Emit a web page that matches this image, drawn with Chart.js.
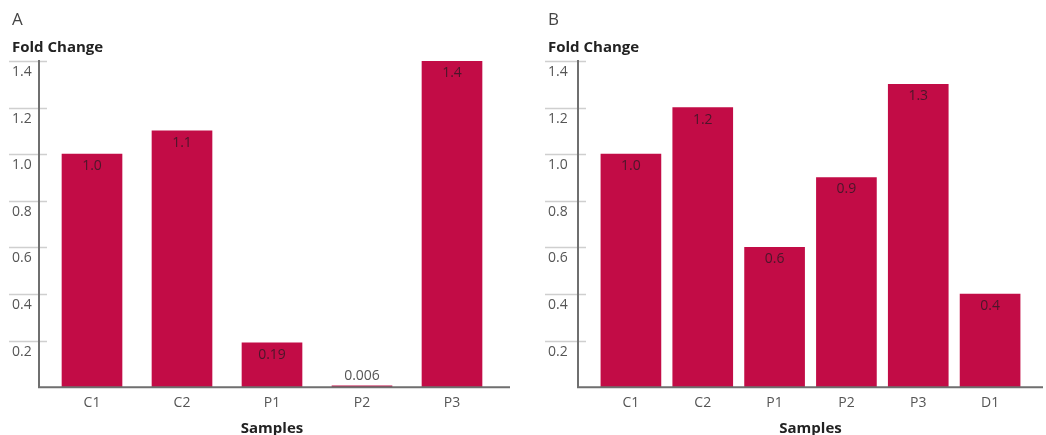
<!DOCTYPE html>
<html>
<head>
<meta charset="utf-8">
<script src="https://cdn.jsdelivr.net/npm/chart.js@4.4.1/dist/chart.umd.min.js"></script>
<style>
    html, body { margin: 0; padding: 0; background: #fff; }
    #wrap { position: relative; width: 1046px; height: 435px; }
    .panel { position: absolute; top: 0; width: 523px; height: 435px; }
    #panelA { left: 0; }
    #panelB { left: 523px; }
</style>
</head>
<body>
<div id="wrap">
    <div class="panel" id="panelA"><canvas id="chartA"></canvas></div>
    <div class="panel" id="panelB"><canvas id="chartB"></canvas></div>
</div>
<script>
// Panel A
const categoriesA = ['C1', 'C2', 'P1', 'P2', 'P3'];
const foldChangeA = [1.0, 1.1, 0.19, 0.006, 1.4];
const valueLabelsA = ['1.0', '1.1', '0.19', '0.006', '1.4'];

// Panel B
const categoriesB = ['C1', 'C2', 'P1', 'P2', 'P3', 'D1'];
const foldChangeB = [1.0, 1.2, 0.6, 0.9, 1.3, 0.4];
const valueLabelsB = ['1.0', '1.2', '0.6', '0.9', '1.3', '0.4'];

const yMax = 1.4;
const yStep = 0.2;

const FONT = "'Open Sans', 'Noto Sans', sans-serif";
const BAR_COLOR = '#c20c46';

// axis lines + short tick marks, drawn by hand like the original figure
const panelAxes = {
    id: 'panelAxes',
    afterDatasetsDraw(chart, args, opts) {
        const { ctx, chartArea, scales } = chart;
        const y = scales.y;
        const axisX = chartArea.left - opts.axisGap;
        ctx.save();
        ctx.strokeStyle = '#cfcfcf';
        ctx.lineWidth = 1.5;
        y.ticks.forEach(t => {
            if (t.value === 0) return;
            const py = Math.round(y.getPixelForValue(t.value)) + 0.5;
            ctx.beginPath();
            ctx.moveTo(opts.tickFrom, py);
            ctx.lineTo(axisX + opts.tickOver, py);
            ctx.stroke();
        });
        ctx.strokeStyle = '#6f6f6f';
        ctx.lineWidth = 2;
        const top = y.getPixelForValue(yMax) - 1;
        const bottom = y.getPixelForValue(0);
        ctx.beginPath();
        ctx.moveTo(axisX, top);
        ctx.lineTo(axisX, bottom);
        ctx.lineTo(chartArea.right + opts.overhang, bottom);
        ctx.stroke();
        ctx.restore();
    }
};

const valueLabels = {
    id: 'valueLabels',
    afterDatasetsDraw(chart, args, opts) {
        const { ctx } = chart;
        const meta = chart.getDatasetMeta(0);
        ctx.save();
        ctx.font = '14px ' + FONT;
        ctx.textAlign = 'center';
        ctx.textBaseline = 'middle';
        meta.data.forEach((bar, i) => {
            const h = bar.base - bar.y;
            if (h < 24) {
                ctx.fillStyle = '#555';
                ctx.fillText(opts.labels[i], bar.x, bar.y - 10);
            } else {
                ctx.fillStyle = 'rgba(45, 25, 35, 0.8)';
                ctx.fillText(opts.labels[i], bar.x, bar.y + 12);
            }
        });
        ctx.restore();
    }
};

function makePanel(canvasId, panelTitle, categories, values, labels, lay) {
    const ctx = document.getElementById(canvasId).getContext('2d');
    return new Chart(ctx, {
        type: 'bar',
        data: {
            labels: categories,
            datasets: [{
                data: values,
                backgroundColor: BAR_COLOR,
                borderWidth: 0,
                barThickness: 60
            }]
        },
        options: {
            responsive: true,
            maintainAspectRatio: false,
            animation: false,
            layout: { padding: { left: lay.padLeft, right: lay.padRight, top: 0, bottom: -3 } },
            scales: {
                x: {
                    grid: { display: false, drawTicks: false },
                    border: { display: false },
                    ticks: {
                        padding: 7,
                        color: '#555',
                        font: { family: FONT, size: 14 }
                    },
                    title: {
                        display: true,
                        text: 'Samples',
                        color: '#222',
                        font: { family: FONT, size: 15, weight: 'bold' },
                        padding: { top: 2, bottom: 0 }
                    }
                },
                y: {
                    min: 0,
                    max: yMax,
                    grid: { display: false, drawTicks: false },
                    border: { display: false },
                    afterFit: (scale) => { scale.width = lay.yWidth; },
                    ticks: {
                        stepSize: yStep,
                        crossAlign: 'far',
                        labelOffset: 11,
                        color: '#555',
                        font: { family: FONT, size: 14 },
                        callback: (v) => v === 0 ? '' : v.toFixed(1)
                    }
                }
            },
            plugins: {
                legend: { display: false },
                tooltip: { enabled: false },
                title: {
                    display: true,
                    text: panelTitle,
                    align: 'start',
                    color: '#444',
                    font: { family: FONT, size: 17, weight: 'normal' },
                    padding: { top: 9.8, bottom: 8.8 }
                },
                subtitle: {
                    display: true,
                    text: 'Fold Change',
                    align: 'start',
                    color: '#222',
                    font: { family: FONT, size: 15, weight: 'bold' },
                    padding: { top: 0, bottom: 4 }
                },
                panelAxes: {
                    axisGap: lay.axisGap,
                    tickFrom: lay.padLeft - 3,
                    tickOver: 8,
                    overhang: lay.overhang
                },
                valueLabels: { labels: labels }
            }
        },
        plugins: [panelAxes, valueLabels]
    });
}

makePanel('chartA', 'A', categoriesA, foldChangeA, valueLabelsA,
    { padLeft: 12, padRight: 26, yWidth: 35, axisGap: 8, overhang: 13 });
makePanel('chartB', 'B', categoriesB, foldChangeB, valueLabelsB,
    { padLeft: 25, padRight: 20, yWidth: 47, axisGap: 17, overhang: 17 });
</script>
</body>
</html>
